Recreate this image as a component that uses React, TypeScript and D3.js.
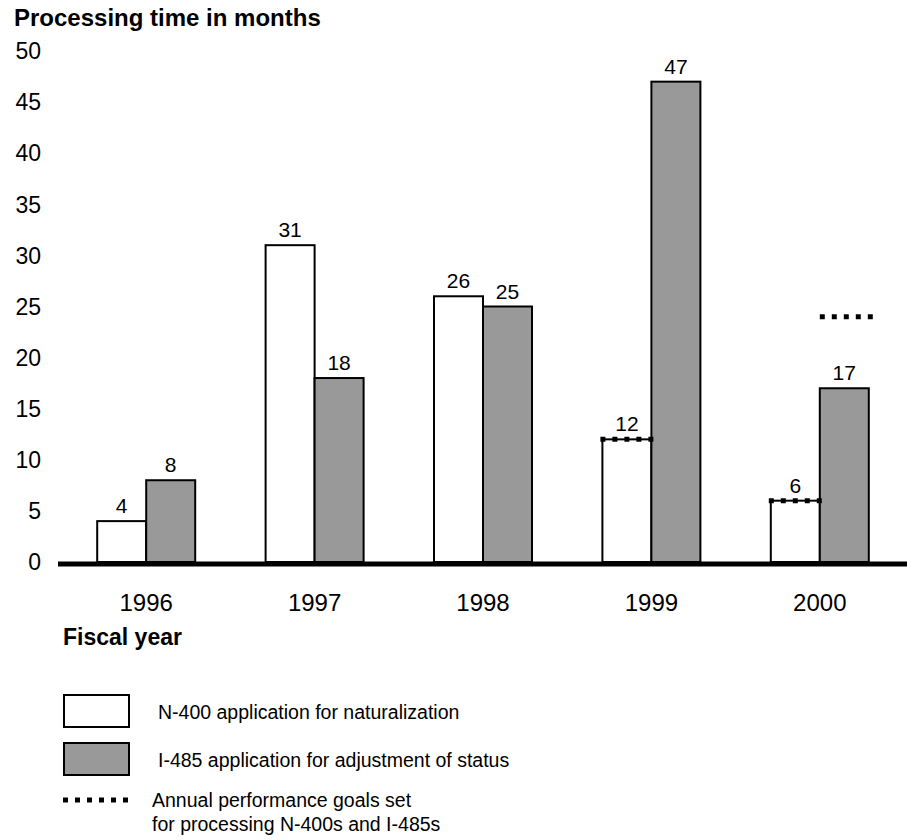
import React from "react";
import * as d3 from "d3";

const years = ["1996", "1997", "1998", "1999", "2000"];
const n400 = [4, 31, 26, 12, 6];
const i485 = [8, 18, 25, 47, 17];
const goalN400: (number | null)[] = [null, null, null, 12, 6];
const goalI485: (number | null)[] = [null, null, null, null, 24];
const yTicks = [0, 5, 10, 15, 20, 25, 30, 35, 40, 45, 50];

const FONT = "'Liberation Sans', Arial, Helvetica, sans-serif";
const W = 907;
const H = 840;

export default function App() {
  const x = d3.scaleBand<string>().domain(years).range([62, 904]).padding(0);
  const y = d3.scaleLinear().domain([0, 50]).range([562, 51]);
  const bw = 49;
  const center = (yr: string) => (x(yr) as number) + x.bandwidth() / 2;
  const GREY = "#999999";

  const goalLine = (x0: number, yy: number, key: string) => (
    <line
      key={key}
      x1={x0}
      x2={x0 + 53}
      y1={yy}
      y2={yy}
      stroke="#000"
      strokeWidth={5}
      strokeDasharray="5,7"
    />
  );

  return (
    <svg
      width={W}
      height={H}
      style={{ position: "absolute", left: 0, top: 0, background: "#fff" }}
      fontFamily={FONT}
    >
      <rect x={0} y={0} width={W} height={H} fill="#fff" />
      <text x={14} y={26} fontSize={24} fontWeight="bold" fill="#000">
        Processing time in months
      </text>
      {yTicks.map((t) => (
        <text key={t} x={41} y={y(t)} dy="0.36em" textAnchor="end" fontSize={23} fill="#000">
          {t}
        </text>
      ))}
      {years.map((yr, i) => {
        const c = center(yr);
        return (
          <g key={yr}>
            <rect x={c - bw} y={y(n400[i])} width={bw} height={y(0) - y(n400[i])} fill="#fff" stroke="#000" strokeWidth={2} />
            <rect x={c} y={y(i485[i])} width={bw} height={y(0) - y(i485[i])} fill={GREY} stroke="#000" strokeWidth={2} />
            <text x={c - bw / 2} y={y(n400[i]) - 8} textAnchor="middle" fontSize={21}>
              {n400[i]}
            </text>
            <text x={c + bw / 2} y={y(i485[i]) - 8} textAnchor="middle" fontSize={21}>
              {i485[i]}
            </text>
            <text x={c} y={611} textAnchor="middle" fontSize={24}>
              {yr}
            </text>
          </g>
        );
      })}
      {years.map((yr, i) => {
        const c = center(yr);
        const out: React.ReactNode[] = [];
        const gN = goalN400[i];
        const gI = goalI485[i];
        if (gN != null) out.push(goalLine(c - bw - 2, y(gN), "n" + yr));
        if (gI != null) out.push(goalLine(c, y(gI), "i" + yr));
        return <g key={"g" + yr}>{out}</g>;
      })}
      <line x1={58} x2={907} y1={564} y2={564} stroke="#000" strokeWidth={5} />
      <text x={63} y={645} fontSize={23} fontWeight="bold">
        Fiscal year
      </text>

      <rect x={64} y={695} width={65} height={32} fill="#fff" stroke="#000" strokeWidth={2} />
      <text x={158} y={719} fontSize={19.5}>N-400 application for naturalization</text>
      <rect x={64} y={743} width={65} height={32} fill={GREY} stroke="#000" strokeWidth={2} />
      <text x={158} y={767} fontSize={19.5}>I-485 application for adjustment of status</text>
      <line x1={63} x2={130} y1={800} y2={800} stroke="#000" strokeWidth={5} strokeDasharray="5,7" />
      <text x={152} y={807} fontSize={19.5}>Annual performance goals set</text>
      <text x={152} y={831} fontSize={19.5}>for processing N-400s and I-485s</text>
    </svg>
  );
}
